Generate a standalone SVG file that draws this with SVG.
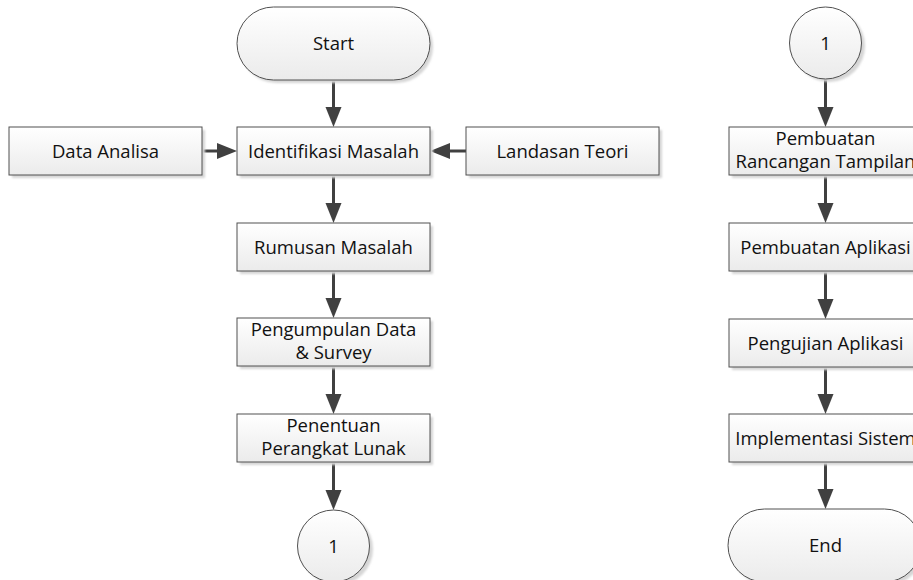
<svg xmlns="http://www.w3.org/2000/svg" width="913" height="580" viewBox="0 0 913 580">
<defs>
<linearGradient id="g" x1="0" y1="0" x2="0" y2="1">
<stop offset="0" stop-color="#ffffff"/>
<stop offset="1" stop-color="#ebebeb"/>
</linearGradient>
<filter id="sh" x="-10%" y="-10%" width="130%" height="140%">
<feGaussianBlur stdDeviation="1.2"/>
</filter>
<marker id="ah" markerUnits="userSpaceOnUse" markerWidth="22" markerHeight="18" refX="2" refY="8" orient="auto">
<path d="M0,0 L20,8 L0,16 z" fill="#404040"/>
</marker>
</defs>
<style>
.shape{fill:url(#g);stroke:#505050;stroke-width:1}
.shadow{fill:#d6d6d6;filter:url(#sh)}
.t{font-family:"Open Sans","Noto Sans",sans-serif;font-size:18.5px;fill:#111111;text-anchor:middle}
.c{stroke:#404040;stroke-width:3;fill:none;marker-end:url(#ah)}
</style>
<rect width="913" height="580" fill="#ffffff"/>

<g id="connectors">
<line class="c" x1="333.5" y1="80" x2="333.5" y2="109"/>
<line class="c" x1="202" y1="151" x2="219" y2="151"/>
<line class="c" x1="466" y1="151" x2="448" y2="151"/>
<line class="c" x1="333.5" y1="175" x2="333.5" y2="205"/>
<line class="c" x1="333.5" y1="271" x2="333.5" y2="300"/>
<line class="c" x1="333.5" y1="366" x2="333.5" y2="396"/>
<line class="c" x1="333.5" y1="462" x2="333.5" y2="492"/>
<line class="c" x1="825.5" y1="79" x2="825.5" y2="109"/>
<line class="c" x1="825.5" y1="175" x2="825.5" y2="205"/>
<line class="c" x1="825.5" y1="271" x2="825.5" y2="301"/>
<line class="c" x1="825.5" y1="367" x2="825.5" y2="396"/>
<line class="c" x1="825.5" y1="462" x2="825.5" y2="491"/>
</g>

<g id="start">
<rect class="shadow" x="240" y="10" width="193" height="73" rx="36.5"/>
<rect class="shape" x="237" y="7" width="193" height="73" rx="36.5"/>
<text class="t" x="333.5" y="50">Start</text>
</g>

<g id="data-analisa">
<rect class="shadow" x="12" y="130" width="193" height="48"/>
<rect class="shape" x="9" y="127" width="193" height="48"/>
<text class="t" x="105.5" y="157.5">Data Analisa</text>
</g>

<g id="identifikasi-masalah">
<rect class="shadow" x="240" y="130" width="193" height="48"/>
<rect class="shape" x="237" y="127" width="193" height="48"/>
<text class="t" x="333.5" y="157.5">Identifikasi Masalah</text>
</g>

<g id="landasan-teori">
<rect class="shadow" x="469" y="130" width="193" height="48"/>
<rect class="shape" x="466" y="127" width="193" height="48"/>
<text class="t" x="562.5" y="157.5">Landasan Teori</text>
</g>

<g id="rumusan-masalah">
<rect class="shadow" x="240" y="226" width="193" height="48"/>
<rect class="shape" x="237" y="223" width="193" height="48"/>
<text class="t" x="333.5" y="253.5">Rumusan Masalah</text>
</g>

<g id="pengumpulan-data">
<rect class="shadow" x="240" y="321" width="193" height="48"/>
<rect class="shape" x="237" y="318" width="193" height="48"/>
<text class="t" x="333.5" y="336">Pengumpulan Data</text>
<text class="t" x="333.5" y="359">&amp; Survey</text>
</g>

<g id="penentuan-perangkat-lunak">
<rect class="shadow" x="240" y="417" width="193" height="48"/>
<rect class="shape" x="237" y="414" width="193" height="48"/>
<text class="t" x="333.5" y="432">Penentuan</text>
<text class="t" x="333.5" y="455">Perangkat Lunak</text>
</g>

<g id="connector-1-left">
<circle class="shadow" cx="337" cy="549" r="36"/>
<circle class="shape" cx="333.5" cy="546" r="36"/>
<text class="t" x="333.5" y="552.5">1</text>
</g>

<g id="connector-1-right">
<circle class="shadow" cx="829" cy="46" r="36"/>
<circle class="shape" cx="825.5" cy="43" r="36"/>
<text class="t" x="825.5" y="49.5">1</text>
</g>

<g id="pembuatan-rancangan-tampilan">
<rect class="shadow" x="732" y="130" width="193" height="48"/>
<rect class="shape" x="729" y="127" width="193" height="48"/>
<text class="t" x="825.5" y="145">Pembuatan</text>
<text class="t" x="825.5" y="168">Rancangan Tampilan</text>
</g>

<g id="pembuatan-aplikasi">
<rect class="shadow" x="732" y="226" width="193" height="48"/>
<rect class="shape" x="729" y="223" width="193" height="48"/>
<text class="t" x="825.5" y="253.5">Pembuatan Aplikasi</text>
</g>

<g id="pengujian-aplikasi">
<rect class="shadow" x="732" y="322" width="193" height="48"/>
<rect class="shape" x="729" y="319" width="193" height="48"/>
<text class="t" x="825.5" y="349.5">Pengujian Aplikasi</text>
</g>

<g id="implementasi-sistem">
<rect class="shadow" x="732" y="417" width="193" height="48"/>
<rect class="shape" x="729" y="414" width="193" height="48"/>
<text class="t" x="825.5" y="444.5">Implementasi Sistem</text>
</g>

<g id="end">
<rect class="shadow" x="731" y="512" width="193" height="73" rx="36.5"/>
<rect class="shape" x="728" y="509" width="193" height="73" rx="36.5"/>
<text class="t" x="825.5" y="552">End</text>
</g>
</svg>
